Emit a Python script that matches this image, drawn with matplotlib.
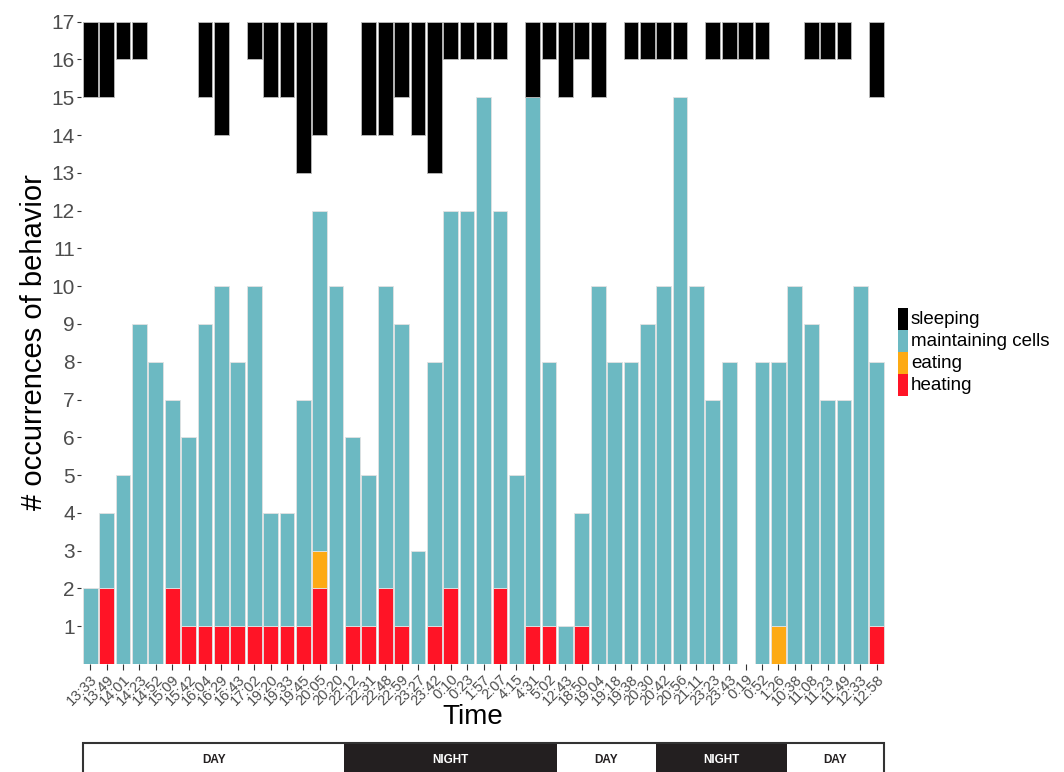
import numpy as np
import matplotlib.pyplot as plt
from matplotlib.patches import Rectangle

plt.rcParams['font.family'] = ['Liberation Sans', 'DejaVu Sans']

times = ['13:33', '13:49', '14:01', '14:23', '14:52', '15:09', '15:42', '16:04', '16:29', '16:43',
         '17:02', '19:20', '19:33', '19:45', '20:05', '20:20', '22:12', '22:31', '22:48', '22:59',
         '23:27', '23:42', '0:10', '0:23', '1:57', '2:07', '4:15', '4:31', '5:02', '12:43',
         '18:50', '19:04', '19:18', '19:38', '20:30', '20:42', '20:56', '21:11', '23:23', '23:43',
         '0:19', '0:52', '1:26', '10:38', '11:08', '11:23', '11:49', '12:33', '12:58']

heating = [0, 2, 0, 0, 0, 2, 1, 1, 1, 1, 1, 1, 1, 1, 2, 0, 1, 1, 2, 1, 0, 1, 2, 0, 0,
           2, 0, 1, 1, 0, 1, 0, 0, 0, 0, 0, 0, 0, 0, 0, 0, 0, 0, 0, 0, 0, 0, 0, 1]
eating = [0, 0, 0, 0, 0, 0, 0, 0, 0, 0, 0, 0, 0, 0, 1, 0, 0, 0, 0, 0, 0, 0, 0, 0, 0,
          0, 0, 0, 0, 0, 0, 0, 0, 0, 0, 0, 0, 0, 0, 0, 0, 0, 1, 0, 0, 0, 0, 0, 0]
maintaining = [2, 2, 5, 9, 8, 5, 5, 8, 9, 7, 9, 3, 3, 6, 9, 10, 5, 4, 8, 8, 3, 7, 10, 12, 15,
               10, 5, 14, 7, 1, 3, 10, 8, 8, 9, 10, 15, 10, 7, 8, 0, 8, 7, 10, 9, 7, 7, 10, 7]
sleeping = [2, 2, 1, 1, 0, 0, 0, 2, 3, 0, 1, 2, 2, 4, 3, 0, 0, 3, 3, 2, 3, 4, 1, 1, 1,
            1, 0, 2, 1, 2, 1, 2, 0, 1, 1, 1, 1, 0, 1, 1, 1, 1, 0, 0, 1, 1, 1, 0, 2]

# day/night strip: segment boundaries in bar-index units
strip_edges = [-0.45, 15.5, 28.5, 34.5, 42.5, 48.45]
strip_labels = ['DAY', 'NIGHT', 'DAY', 'NIGHT', 'DAY']

colores = {'sleeping': '#000000', 'maintaining cells': '#6CB9C2',
           'eating': '#FDAA14', 'heating': '#FF1426'}
TOP = 17

W, H = 1064, 772
fig = plt.figure(figsize=(W / 100, H / 100), dpi=100)
ax = fig.add_axes([80.5 / W, 1 - 664 / H, 806 / W, 644 / H])

x = np.arange(len(times))
heating = np.array(heating)
eating = np.array(eating)
maintaining = np.array(maintaining)
sleeping = np.array(sleeping)


def barras(vals, bottom, color, edge):
    m = vals > 0  # no dibujar barras de altura cero
    ax.bar(x[m], vals[m], bottom=bottom[m], color=color, width=0.9,
           edgecolor=edge, linewidth=0.6)


barras(heating, np.zeros_like(heating), colores['heating'], '#E2E2E2')
barras(eating, heating, colores['eating'], '#E2E2E2')
barras(maintaining, heating + eating, colores['maintaining cells'], '#E2E2E2')
barras(sleeping, TOP - sleeping, colores['sleeping'], '#BBBBBB')

ax.set_xlim(-0.6, len(times) - 0.4)
ax.set_ylim(0, 17.045)
ax.set_yticks(range(1, 18))
ax.set_xticks(x)
ax.set_xticklabels(times, rotation=45, ha='right', rotation_mode='anchor',
                   fontsize=10.5, color='#4D4D4D')
ax.tick_params(axis='y', labelsize=15, labelcolor='#4D4D4D', length=3, width=0.8,
               color='#333333', pad=1)
ax.tick_params(axis='x', length=4, width=0.8, color='#333333', pad=2)
for s in ax.spines.values():
    s.set_visible(False)

ax.set_xlabel('Time', fontsize=20)
ax.set_ylabel('# occurrences of behavior', fontsize=21)
ax.xaxis.set_label_coords(0.487, -0.062)
ax.yaxis.set_label_coords(-0.04, 0.5)

# leyenda: cuadros pegados, como en ggplot
for i, (nombre, c) in enumerate(colores.items()):
    y0 = 308 + 22 * i
    fig.add_artist(Rectangle((898 / W, 1 - (y0 + 22) / H), 10 / W, 22 / H,
                             facecolor=c, edgecolor='none', transform=fig.transFigure))
    fig.text(911 / W, 1 - (y0 + 11) / H, nombre, fontsize=13.5, va='center', ha='left')

# day / night strip
ax2 = fig.add_axes([80.5 / W, 1 - 777 / H, 806 / W, 34 / H])
ax2.set_xlim(ax.get_xlim())
ax2.set_ylim(0, 1)
ax2.axis('off')
for i, lab in enumerate(strip_labels):
    a, b = strip_edges[i], strip_edges[i + 1]
    night = lab == 'NIGHT'
    ax2.axvspan(a, b, color='#231F20' if night else 'white', lw=0)
    ax2.text((a + b) / 2, 0.5, lab, ha='center', va='center', fontsize=8.5,
             fontweight='bold', color='white' if night else '#231F20')
ax2.add_patch(Rectangle((strip_edges[0], 0), strip_edges[-1] - strip_edges[0], 1,
                        fill=False, edgecolor='#333333', lw=1.5, clip_on=False))

fig.savefig('out.png', dpi=100)
